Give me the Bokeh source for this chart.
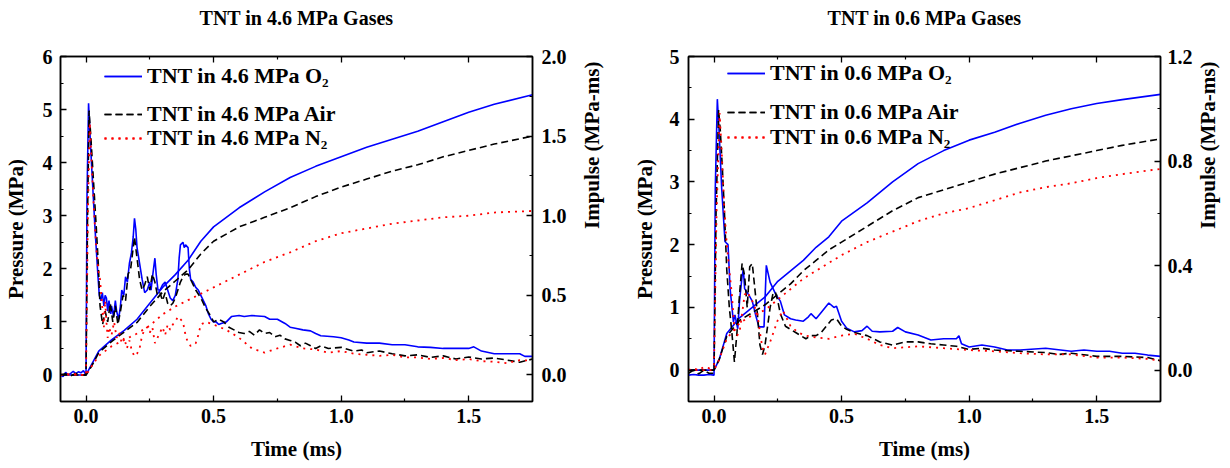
import math
from bokeh.plotting import figure
from bokeh.models import (Range1d, LinearAxis, FixedTicker, Legend, LegendItem,
                          PrintfTickFormatter, CustomJSTickFormatter)
from bokeh.layouts import row
from bokeh.embed import file_html
from bokeh.resources import INLINE

FONT = "Liberation Serif"

# ---------------- data: TNT in 4.6 MPa gases ----------------
time_ticks = [0.0, 0.5, 1.0, 1.5]
time_minor = [0.25, 0.75, 1.25]

p46_o2 = [(-0.1,0.0),(-0.09,-0.03),(-0.08,0.05),(-0.07,0.0),(-0.06,0.03),(-0.05,0.07),(-0.04,0.02),(-0.03,0.06),(-0.02,0.04),(-0.01,0.08),(0.0,0.0),(0.004,3.4),(0.01,5.12),(0.018,4.3),(0.028,3.4),(0.036,2.7),(0.045,2.0),(0.052,1.5),(0.058,1.4),(0.064,1.55),(0.07,1.3),(0.075,1.5),(0.08,1.45),(0.085,1.2),(0.09,1.4),(0.097,1.15),(0.1,1.3),(0.108,1.1),(0.115,1.4),(0.12,1.2),(0.128,1.05),(0.135,1.3),(0.14,1.6),(0.148,1.5),(0.155,1.85),(0.162,1.75),(0.17,2.1),(0.178,2.3),(0.185,2.6),(0.19,2.95),(0.195,2.75),(0.2,2.4),(0.21,2.1),(0.22,1.8),(0.23,1.55),(0.24,1.6),(0.25,1.75),(0.255,1.6),(0.262,1.9),(0.27,2.2),(0.275,1.9),(0.282,1.6),(0.29,1.6),(0.3,1.7),(0.31,1.75),(0.32,1.6),(0.33,1.45),(0.34,1.4),(0.35,1.5),(0.36,1.8),(0.365,2.2),(0.37,2.45),(0.38,2.5),(0.385,2.4),(0.39,2.45),(0.4,2.4),(0.405,2.0),(0.41,1.8),(0.42,1.75),(0.43,1.65),(0.44,1.6),(0.45,1.5),(0.46,1.4),(0.47,1.3),(0.48,1.15),(0.49,1.05),(0.5,1.0),(0.51,1.0),(0.52,0.95),(0.53,0.97),(0.55,1.0),(0.57,1.1),(0.6,1.12),(0.62,1.1),(0.65,1.12),(0.7,1.1),(0.72,1.05),(0.75,1.05),(0.78,0.97),(0.8,0.9),(0.82,0.88),(0.85,0.85),(0.88,0.83),(0.9,0.78),(0.92,0.74),(0.97,0.72),(1.0,0.7),(1.03,0.66),(1.05,0.62),(1.1,0.6),(1.15,0.6),(1.2,0.57),(1.25,0.57),(1.3,0.53),(1.35,0.52),(1.4,0.5),(1.45,0.5),(1.5,0.5),(1.52,0.53),(1.55,0.45),(1.6,0.4),(1.65,0.4),(1.7,0.4),(1.72,0.35),(1.75,0.35)]
p46_air = [(-0.1,0.0),(-0.08,0.02),(-0.06,-0.02),(-0.04,0.03),(-0.02,0.0),(0.0,0.0),(0.006,3.0),(0.012,4.98),(0.02,4.4),(0.03,3.6),(0.04,2.8),(0.048,2.1),(0.055,1.3),(0.065,0.95),(0.075,1.2),(0.085,1.0),(0.095,1.35),(0.105,1.0),(0.115,1.3),(0.125,0.95),(0.135,1.2),(0.145,1.5),(0.155,1.4),(0.165,1.9),(0.175,2.0),(0.19,2.6),(0.2,2.2),(0.21,1.8),(0.22,1.6),(0.23,1.7),(0.24,1.85),(0.25,1.6),(0.26,1.9),(0.27,1.75),(0.28,1.5),(0.29,1.55),(0.3,1.4),(0.31,1.55),(0.32,1.35),(0.33,1.3),(0.34,1.35),(0.35,1.45),(0.36,1.6),(0.37,1.75),(0.38,1.85),(0.39,1.9),(0.4,1.9),(0.41,1.8),(0.42,1.7),(0.43,1.6),(0.45,1.45),(0.47,1.25),(0.49,1.1),(0.5,1.0),(0.52,1.05),(0.54,1.0),(0.56,0.9),(0.58,0.85),(0.6,0.8),(0.62,0.78),(0.64,0.82),(0.66,0.75),(0.68,0.85),(0.7,0.78),(0.72,0.8),(0.74,0.72),(0.76,0.75),(0.78,0.68),(0.8,0.65),(0.82,0.62),(0.84,0.55),(0.86,0.6),(0.88,0.55),(0.9,0.5),(0.92,0.55),(0.95,0.5),(1.0,0.52),(1.05,0.45),(1.08,0.47),(1.1,0.42),(1.15,0.45),(1.2,0.4),(1.25,0.36),(1.3,0.38),(1.35,0.33),(1.4,0.36),(1.45,0.3),(1.5,0.34),(1.55,0.3),(1.6,0.32),(1.65,0.28),(1.7,0.24),(1.75,0.3)]
p46_n2 = [(-0.1,0.0),(-0.08,0.03),(-0.06,0.0),(-0.04,0.02),(-0.02,0.0),(0.0,0.0),(0.008,3.2),(0.015,4.75),(0.022,4.0),(0.03,3.2),(0.04,2.4),(0.05,1.9),(0.055,1.8),(0.06,1.5),(0.065,1.2),(0.07,0.9),(0.075,1.4),(0.08,1.0),(0.085,0.7),(0.09,0.9),(0.1,0.75),(0.11,1.0),(0.12,0.7),(0.13,0.8),(0.14,0.6),(0.15,0.7),(0.16,0.5),(0.17,0.65),(0.18,0.45),(0.19,0.35),(0.2,0.4),(0.21,0.5),(0.22,0.75),(0.23,0.85),(0.24,0.9),(0.25,0.8),(0.26,0.9),(0.27,0.6),(0.28,0.7),(0.29,0.8),(0.3,0.9),(0.31,0.75),(0.32,0.95),(0.33,0.85),(0.34,0.95),(0.35,1.0),(0.36,1.1),(0.37,1.05),(0.38,1.0),(0.39,0.75),(0.4,0.6),(0.41,0.55),(0.42,0.55),(0.43,0.6),(0.44,0.75),(0.45,0.95),(0.47,1.0),(0.5,0.95),(0.55,0.85),(0.6,0.7),(0.65,0.5),(0.7,0.42),(0.75,0.5),(0.8,0.57),(0.85,0.5),(0.9,0.48),(0.95,0.42),(1.0,0.45),(1.05,0.4),(1.1,0.38),(1.15,0.36),(1.2,0.38),(1.25,0.33),(1.3,0.33),(1.35,0.3),(1.4,0.32),(1.45,0.28),(1.5,0.3),(1.55,0.26),(1.6,0.25),(1.65,0.22),(1.7,0.28),(1.75,0.27)]
i46_o2 = [(-0.1,0.0),(0.0,0.0),(0.02,0.06),(0.05,0.15),(0.1,0.22),(0.15,0.28),(0.2,0.35),(0.25,0.45),(0.3,0.55),(0.35,0.63),(0.4,0.72),(0.45,0.84),(0.5,0.93),(0.6,1.05),(0.7,1.15),(0.8,1.24),(0.9,1.31),(1.0,1.37),(1.1,1.43),(1.2,1.48),(1.3,1.53),(1.4,1.59),(1.5,1.65),(1.6,1.70),(1.75,1.76)]
i46_air = [(-0.1,0.0),(0.0,0.0),(0.02,0.05),(0.05,0.14),(0.1,0.21),(0.15,0.27),(0.2,0.33),(0.25,0.43),(0.3,0.52),(0.35,0.59),(0.4,0.66),(0.45,0.76),(0.5,0.84),(0.6,0.93),(0.7,0.99),(0.8,1.05),(0.9,1.12),(1.0,1.18),(1.1,1.23),(1.2,1.28),(1.3,1.32),(1.4,1.37),(1.5,1.41),(1.6,1.45),(1.75,1.50)]
i46_n2 = [(-0.1,0.0),(0.0,0.0),(0.02,0.05),(0.05,0.12),(0.1,0.18),(0.15,0.22),(0.2,0.26),(0.25,0.31),(0.3,0.38),(0.35,0.43),(0.4,0.47),(0.45,0.51),(0.5,0.55),(0.6,0.63),(0.7,0.71),(0.8,0.77),(0.9,0.84),(1.0,0.89),(1.1,0.92),(1.2,0.95),(1.3,0.97),(1.4,0.99),(1.5,1.0),(1.6,1.02),(1.75,1.03)]

# ---------------- data: TNT in 0.6 MPa gases ----------------
p06_o2 = [(-0.1,-0.08),(-0.08,-0.07),(-0.06,-0.08),(-0.04,-0.08),(-0.02,-0.07),(0.0,-0.08),(0.005,2.9),(0.013,4.32),(0.02,3.8),(0.03,2.9),(0.043,2.05),(0.05,2.02),(0.055,2.0),(0.063,1.3),(0.076,0.77),(0.082,0.88),(0.093,0.66),(0.1,1.1),(0.11,1.5),(0.115,1.6),(0.12,1.3),(0.136,1.2),(0.15,1.1),(0.163,0.88),(0.176,0.69),(0.196,0.69),(0.205,1.67),(0.22,1.4),(0.243,1.2),(0.26,1.1),(0.276,0.88),(0.3,0.82),(0.32,0.8),(0.35,0.78),(0.37,0.85),(0.38,0.9),(0.4,0.82),(0.42,0.92),(0.45,1.07),(0.47,1.0),(0.48,1.02),(0.5,0.78),(0.52,0.67),(0.55,0.61),(0.58,0.63),(0.6,0.7),(0.62,0.62),(0.65,0.61),(0.7,0.62),(0.72,0.68),(0.75,0.61),(0.8,0.56),(0.85,0.48),(0.9,0.5),(0.95,0.5),(0.96,0.55),(0.97,0.42),(1.0,0.37),(1.05,0.4),(1.1,0.37),(1.15,0.32),(1.2,0.32),(1.3,0.35),(1.4,0.3),(1.45,0.32),(1.5,0.3),(1.55,0.3),(1.6,0.27),(1.65,0.27),(1.7,0.24),(1.75,0.22)]
p06_air = [(-0.1,-0.05),(-0.08,0.0),(-0.06,-0.06),(-0.04,0.0),(-0.02,-0.05),(0.0,-0.05),(0.008,2.5),(0.018,4.15),(0.025,3.8),(0.033,3.2),(0.04,2.6),(0.05,1.6),(0.06,1.0),(0.07,0.6),(0.08,0.13),(0.09,0.6),(0.1,1.2),(0.11,1.7),(0.12,1.5),(0.13,1.0),(0.14,1.65),(0.15,1.7),(0.16,1.3),(0.17,0.9),(0.18,0.4),(0.19,0.25),(0.2,0.4),(0.21,0.7),(0.22,1.0),(0.23,1.2),(0.24,1.25),(0.25,1.1),(0.26,0.9),(0.28,0.7),(0.3,0.65),(0.32,0.6),(0.34,0.55),(0.36,0.5),(0.38,0.55),(0.4,0.55),(0.42,0.6),(0.44,0.7),(0.46,0.8),(0.48,0.82),(0.5,0.7),(0.52,0.65),(0.55,0.6),(0.6,0.55),(0.65,0.45),(0.7,0.4),(0.75,0.45),(0.8,0.45),(0.85,0.42),(0.9,0.4),(0.95,0.38),(1.0,0.33),(1.05,0.35),(1.1,0.32),(1.2,0.3),(1.3,0.28),(1.35,0.25),(1.4,0.27),(1.5,0.22),(1.6,0.22),(1.7,0.2),(1.75,0.15)]
p06_n2 = [(-0.1,0.0),(-0.08,0.03),(-0.06,0.0),(-0.04,0.05),(-0.02,0.03),(0.0,0.08),(0.01,2.5),(0.022,4.1),(0.03,3.5),(0.04,2.6),(0.05,2.0),(0.06,1.6),(0.07,1.2),(0.08,0.65),(0.09,0.55),(0.1,0.6),(0.11,0.9),(0.12,1.2),(0.13,1.25),(0.15,1.1),(0.17,0.9),(0.18,0.6),(0.19,0.35),(0.2,0.25),(0.22,0.45),(0.25,0.8),(0.27,0.95),(0.3,0.7),(0.33,0.6),(0.36,0.55),(0.4,0.52),(0.45,0.5),(0.5,0.55),(0.55,0.58),(0.6,0.5),(0.65,0.4),(0.7,0.35),(0.8,0.38),(0.9,0.35),(1.0,0.32),(1.1,0.3),(1.2,0.27),(1.3,0.25),(1.4,0.25),(1.5,0.2),(1.6,0.2),(1.7,0.18),(1.75,0.15)]
i06_o2 = [(-0.1,0.0),(0.0,0.0),(0.02,0.04),(0.05,0.14),(0.1,0.2),(0.15,0.24),(0.2,0.28),(0.25,0.34),(0.3,0.38),(0.35,0.42),(0.4,0.47),(0.45,0.51),(0.5,0.57),(0.6,0.64),(0.7,0.72),(0.8,0.79),(0.9,0.84),(1.0,0.88),(1.1,0.91),(1.2,0.945),(1.3,0.975),(1.4,1.0),(1.5,1.02),(1.6,1.035),(1.75,1.055)]
i06_air = [(-0.1,0.0),(0.0,0.0),(0.02,0.04),(0.05,0.13),(0.1,0.19),(0.15,0.22),(0.2,0.25),(0.25,0.29),(0.3,0.33),(0.35,0.38),(0.4,0.42),(0.45,0.46),(0.5,0.49),(0.6,0.55),(0.7,0.61),(0.8,0.66),(0.9,0.69),(1.0,0.72),(1.1,0.75),(1.2,0.775),(1.3,0.80),(1.4,0.82),(1.5,0.84),(1.6,0.86),(1.75,0.885)]
i06_n2 = [(-0.1,0.0),(0.0,0.0),(0.02,0.04),(0.05,0.12),(0.1,0.18),(0.15,0.21),(0.2,0.23),(0.25,0.27),(0.3,0.31),(0.35,0.35),(0.4,0.38),(0.45,0.41),(0.5,0.44),(0.6,0.49),(0.7,0.53),(0.8,0.57),(0.9,0.60),(1.0,0.62),(1.1,0.65),(1.2,0.68),(1.3,0.70),(1.4,0.715),(1.5,0.735),(1.6,0.75),(1.75,0.77)]

labels46 = ["TNT in 4.6 MPa O\u2082", "TNT in 4.6 MPa Air", "TNT in 4.6 MPa N\u2082"]
labels06 = ["TNT in 0.6 MPa O\u2082", "TNT in 0.6 MPa Air", "TNT in 0.6 MPa N\u2082"]

STYLES = [dict(line_color="#0000ff", line_width=1.6, line_dash="solid"),
          dict(line_color="#000000", line_width=1.6, line_dash="7 4"),
          dict(line_color="#ff0000", line_width=1.8, line_dash="2 5")]


def style_axis(ax, label_size="21px"):
    ax.axis_line_width = 1.5
    ax.axis_line_color = "black"
    ax.major_tick_in = 6
    ax.major_tick_out = 0
    ax.minor_tick_in = 3
    ax.minor_tick_out = 0
    ax.major_tick_line_width = 1.3
    ax.minor_tick_line_width = 1.2
    ax.major_tick_line_color = "black"
    ax.minor_tick_line_color = "black"
    ax.major_label_text_font = FONT
    ax.major_label_text_font_style = "bold"
    ax.major_label_text_font_size = "20px"
    ax.major_label_text_color = "black"
    ax.axis_label_text_font = FONT
    ax.axis_label_text_font_style = "bold"
    ax.axis_label_text_font_size = label_size
    ax.axis_label_text_color = "black"


def make_panel(title, pmax, imax, p_ticks, i_ticks, i_minor, p_series, i_series, labels,
               left, right, top, bottom, title_gap, legend_x, legend_rows,
               lab_standoff_l, lab_standoff_r, tick_standoff_l, tick_standoff_r):
    p = figure(frame_width=472, frame_height=345,
               x_range=Range1d(-0.1, 1.75), y_range=Range1d(-0.5, pmax),
               output_backend="svg", toolbar_location=None,
               min_border_left=left, min_border_right=right,
               min_border_top=top, min_border_bottom=bottom)
    p.xgrid.visible = False
    p.ygrid.visible = False
    p.outline_line_color = "black"
    p.outline_line_width = 1.5
    p.background_fill_color = "white"
    p.border_fill_color = "white"
    p.extra_y_ranges = {"imp": Range1d(-0.5 * imax / pmax, imax)}

    # bottom axis
    xa = p.xaxis[0]
    xa.ticker = FixedTicker(ticks=time_ticks, minor_ticks=time_minor)
    xa.formatter = PrintfTickFormatter(format="%.1f")
    xa.axis_label = "Time (ms)"
    style_axis(xa)
    xa.major_label_standoff = 7
    xa.axis_label_standoff = 11

    # top mirror axis (ticks only), carrying the panel title as its label
    ta = LinearAxis(ticker=FixedTicker(ticks=time_ticks, minor_ticks=time_minor),
                    formatter=CustomJSTickFormatter(code="return ''"))
    style_axis(ta, label_size="20px")
    ta.major_label_standoff = 0
    ta.axis_label = title
    ta.axis_label_standoff = title_gap
    p.add_layout(ta, "above")

    # left pressure axis
    ya = p.yaxis[0]
    ya.ticker = FixedTicker(ticks=p_ticks, minor_ticks=[v + 0.5 for v in p_ticks[:-1]])
    ya.axis_label = "Pressure (MPa)"
    style_axis(ya)
    ya.major_label_standoff = tick_standoff_l
    ya.axis_label_standoff = lab_standoff_l

    # right impulse axis
    ra = LinearAxis(y_range_name="imp", ticker=FixedTicker(ticks=i_ticks, minor_ticks=i_minor),
                    formatter=PrintfTickFormatter(format="%.1f"))
    ra.axis_label = "Impulse (MPa-ms)"
    style_axis(ra)
    ra.major_label_standoff = tick_standoff_r
    ra.axis_label_standoff = lab_standoff_r
    if "axis_label_orientation" in ra.properties():
        ra.axis_label_orientation = math.pi / 2
    p.add_layout(ra, "right")

    items = []
    for k in range(3):
        ps = p_series[k]
        ims = i_series[k]
        r1 = p.line([a for a, b in ps], [b for a, b in ps], **STYLES[k])
        r2 = p.line([a for a, b in ims], [b for a, b in ims], y_range_name="imp", **STYLES[k])
        items.append(LegendItem(label=labels[k], renderers=[r1, r2]))

    for k in range(3):
        lg = Legend(items=[items[k]], location=(legend_x, legend_rows[k]),
                    orientation="vertical", padding=0, margin=0, spacing=0,
                    glyph_width=38, glyph_height=22, label_height=22,
                    label_standoff=5, border_line_alpha=0, background_fill_alpha=0,
                    label_text_font=FONT, label_text_font_style="bold",
                    label_text_font_size="22px", label_text_color="black")
        p.add_layout(lg, "center")
    return p


p1 = make_panel("TNT in 4.6 MPa Gases", 6, 2.0, [0, 1, 2, 3, 4, 5, 6],
                [0.0, 0.5, 1.0, 1.5, 2.0], [0.25, 0.75, 1.25, 1.75],
                [p46_o2, p46_air, p46_n2], [i46_o2, i46_air, i46_n2], labels46,
                left=53, right=84, top=56, bottom=62, title_gap=28,
                legend_x=44, legend_rows=[312, 274, 250],
                lab_standoff_l=12, lab_standoff_r=22, tick_standoff_l=8, tick_standoff_r=9)
p2 = make_panel("TNT in 0.6 MPa Gases", 5, 1.2, [0, 1, 2, 3, 4, 5],
                [0.0, 0.4, 0.8, 1.2], [0.2, 0.6, 1.0],
                [p06_o2, p06_air, p06_n2], [i06_o2, i06_air, i06_n2], labels06,
                left=70, right=60, top=56, bottom=62, title_gap=28,
                legend_x=39, legend_rows=[315, 276, 251],
                lab_standoff_l=10, lab_standoff_r=12, tick_standoff_l=9, tick_standoff_r=7)

layout = row(p1, p2, spacing=0)
open("out.html", "w").write(file_html(layout, INLINE))
